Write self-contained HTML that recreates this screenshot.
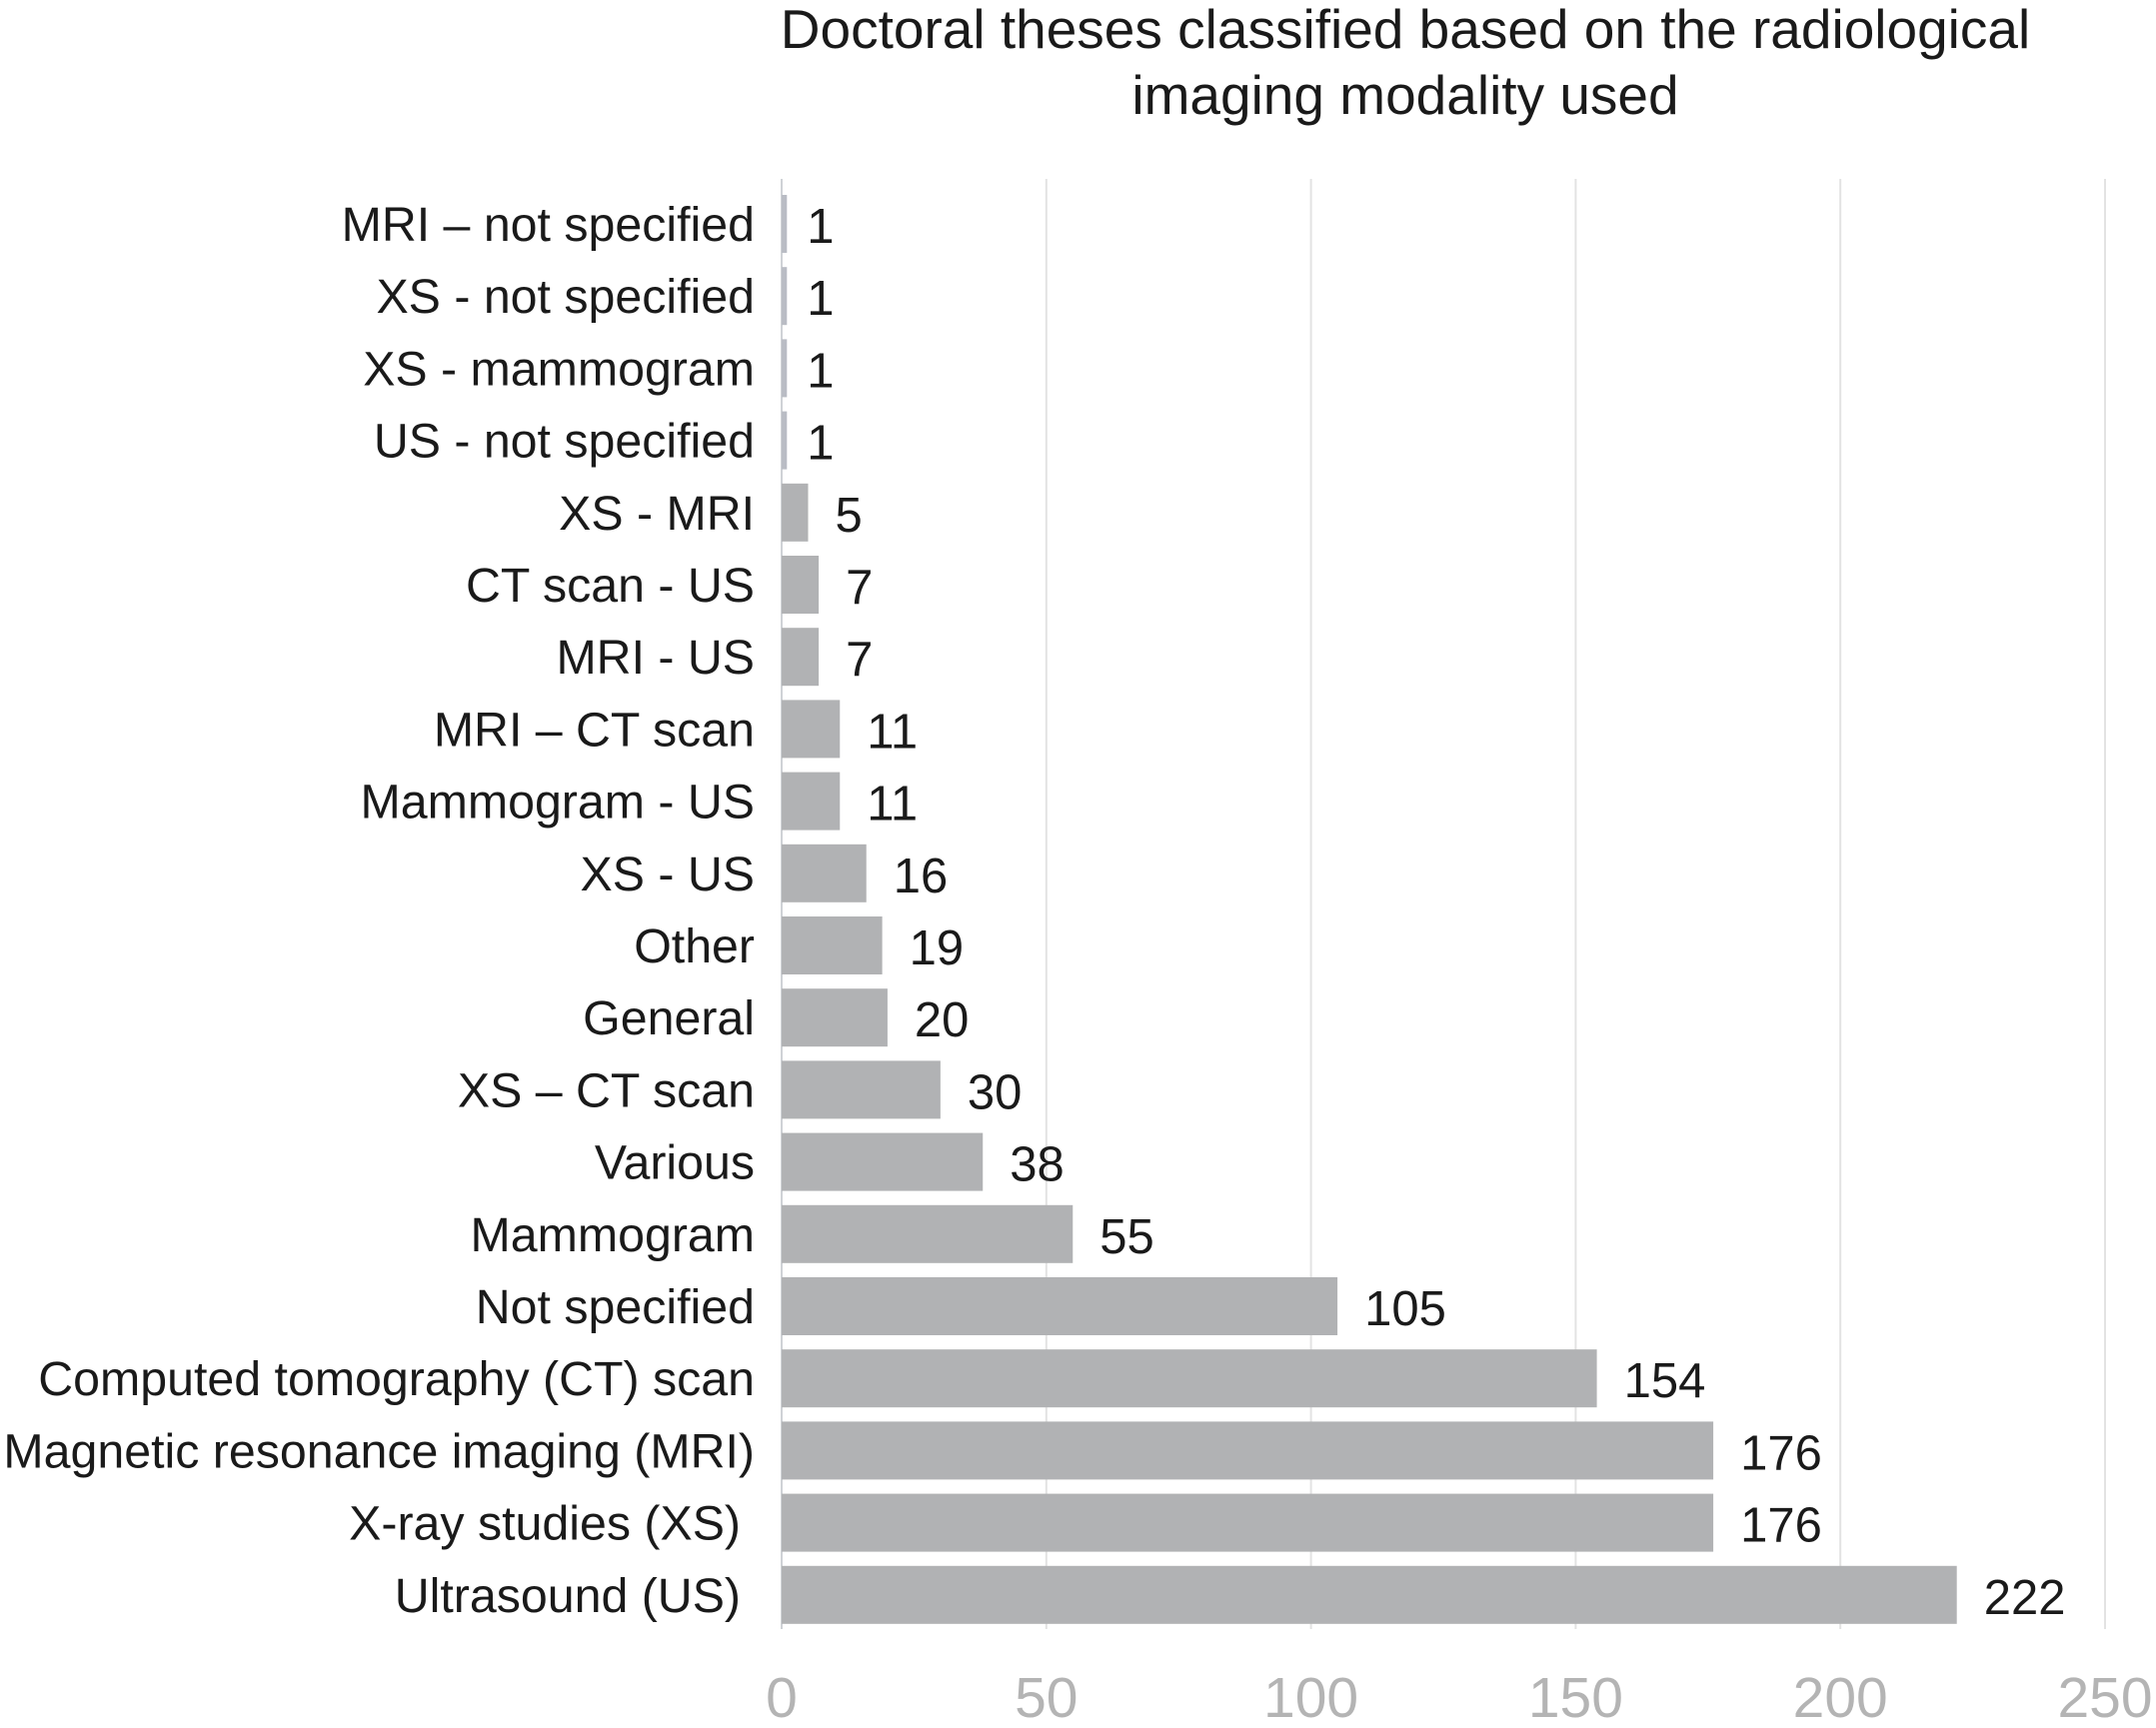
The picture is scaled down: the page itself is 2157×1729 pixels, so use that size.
<!DOCTYPE html>
<html><head><meta charset="utf-8"><style>
html,body{margin:0;padding:0;background:#fff;}
svg{display:block;font-family:"Liberation Sans",Arial,sans-serif;}
</style></head><body>
<svg id="chart" width="2157" height="1729" viewBox="0 0 2157 1729" xmlns="http://www.w3.org/2000/svg">
<g>
<text x="1406" y="48" text-anchor="middle" font-size="55" fill="#1a1a1a">Doctoral theses classified based on the radiological</text>
<text x="1406" y="114" text-anchor="middle" font-size="55" fill="#1a1a1a">imaging modality used</text>
</g>
<g id="grid"></g><g id="bars"></g><g id="labels"></g><g id="ticks"></g>
</svg>
<script>
const categories=["MRI – not specified","XS - not specified","XS - mammogram","US - not specified","XS - MRI","CT scan - US","MRI - US","MRI – CT scan","Mammogram - US","XS - US","Other","General","XS – CT scan","Various","Mammogram","Not specified","Computed tomography (CT) scan","Magnetic resonance imaging (MRI)","X-ray studies (XS)","Ultrasound (US)"];
const values=[1,1,1,1,5,7,7,11,11,16,19,20,30,38,55,105,154,176,176,222];
const tickValues=[0,50,100,150,200,250];
const NS="http://www.w3.org/2000/svg";
const x0=782,x1=2106,xmax=250,yTop=179,yBot=1630;
const firstC=224,step=72.2,barH=58;
function xs(v){return x0+(v/xmax)*(x1-x0);}
function yc(i){return firstC+i*step;}
function mk(tag,attrs,parent){const e=document.createElementNS(NS,tag);for(const k in attrs)e.setAttribute(k,attrs[k]);parent.appendChild(e);return e;}
const grid=document.getElementById('grid'),bars=document.getElementById('bars'),labels=document.getElementById('labels'),ticks=document.getElementById('ticks');
tickValues.forEach(t=>{
  const l=mk('line',{x1:xs(t),x2:xs(t),y1:yTop,y2:yBot,stroke:t===0?'#cfd2d6':'#e3e3e3','stroke-width':2},grid);
  
  
  const tx=mk('text',{x:xs(t),y:1718,'text-anchor':'middle','font-size':57,fill:'#b4b4b4'},ticks);
  tx.textContent=t;
  
  
});
categories.forEach((c,i)=>{
  const v=values[i];
  const w=Math.max(xs(v)-x0,3);
  const r=mk('rect',{x:x0,y:yc(i)-barH/2,width:w,height:barH,fill:v<=1?'#b9bcc4':'#b1b2b4'},bars);
  
  
  const lx=(i>=18)?741:755;
  const t=mk('text',{x:lx,y:yc(i)+17,'text-anchor':'end','font-size':48.3,fill:'#1a1a1a'},labels);
  t.textContent=c;
  
  
  const vt=mk('text',{x:xs(v)+(v<=1?20:27),y:yc(i)+19,'font-size':49,fill:'#1a1a1a'},labels);
  vt.textContent=v;
  
  
});
</script>
</body></html>
